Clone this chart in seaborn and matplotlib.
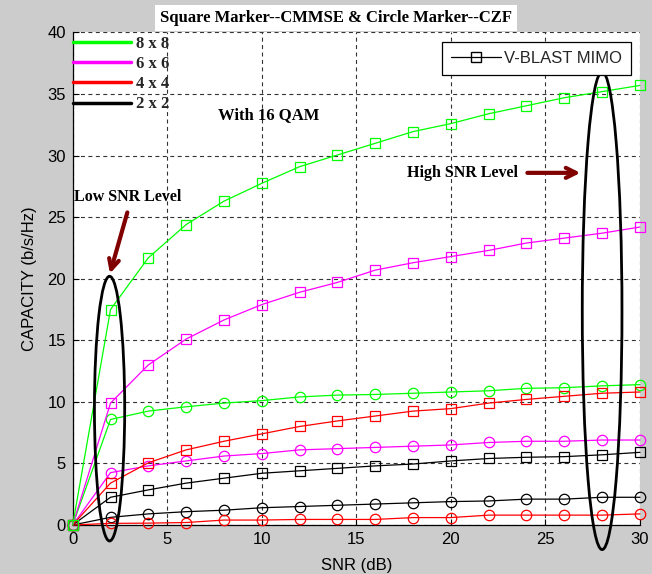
import numpy as np
import pandas as pd
import matplotlib
matplotlib.use("Agg")
import matplotlib.pyplot as plt
import seaborn as sns
from matplotlib.patches import Ellipse
from matplotlib.lines import Line2D
from matplotlib.font_manager import FontProperties

# ---------------- data ----------------
snr = [0, 2, 4, 6, 8, 10, 12, 14, 16, 18, 20, 22, 24, 26, 28, 30]
cmmse_8x8 = [0, 17.5, 21.7, 24.4, 26.3, 27.75, 29.1, 30.05, 31.0, 31.95, 32.6, 33.4, 34.05, 34.7, 35.2, 35.7]
cmmse_6x6 = [0, 9.9, 13.0, 15.1, 16.65, 17.9, 18.9, 19.7, 20.7, 21.3, 21.8, 22.3, 22.9, 23.3, 23.7, 24.2]
cmmse_4x4 = [0, 3.4, 5.05, 6.1, 6.8, 7.4, 8.0, 8.45, 8.85, 9.25, 9.45, 9.9, 10.2, 10.45, 10.7, 10.8]
cmmse_2x2 = [0, 2.25, 2.85, 3.4, 3.8, 4.2, 4.4, 4.6, 4.8, 4.95, 5.2, 5.4, 5.5, 5.55, 5.7, 5.9]
czf_8x8 = [0, 8.57, 9.25, 9.6, 9.9, 10.1, 10.4, 10.55, 10.6, 10.7, 10.8, 10.9, 11.1, 11.15, 11.3, 11.4]
czf_6x6 = [0, 4.25, 4.8, 5.2, 5.6, 5.8, 6.1, 6.2, 6.3, 6.4, 6.5, 6.7, 6.8, 6.8, 6.9, 6.9]
czf_4x4 = [0, 0.13, 0.15, 0.2, 0.4, 0.4, 0.45, 0.45, 0.45, 0.6, 0.6, 0.8, 0.8, 0.8, 0.8, 0.9]
czf_2x2 = [0, 0.62, 0.9, 1.08, 1.2, 1.4, 1.5, 1.6, 1.7, 1.8, 1.9, 1.95, 2.1, 2.1, 2.25, 2.25]

antenna_labels = ["8 x 8", "6 x 6", "4 x 4", "2 x 2"]
antenna_colors = ["#00ff00", "#ff00ff", "#ff0000", "#000000"]

title_text = "Square Marker--CMMSE & Circle Marker--CZF"
legend2_label = "V-BLAST MIMO"

# ---------------- style ----------------
sns.set_theme(style="white")
plt.rcParams["font.family"] = ["Liberation Sans", "DejaVu Sans"]
serif_bold = FontProperties(family="Liberation Serif", weight="bold", size=12)

fig = plt.figure(figsize=(6.52, 5.74), dpi=100, facecolor="#cccccc")
ax = fig.add_axes([0.1115, 0.0854, 0.8700, 0.8580])
ax.set_facecolor("white")

series = [
    (czf_2x2, "o", "#000000"), (czf_4x4, "o", "#ff0000"),
    (czf_6x6, "o", "#ff00ff"), (czf_8x8, "o", "#00ff00"),
    (cmmse_2x2, "s", "#000000"), (cmmse_4x4, "s", "#ff0000"),
    (cmmse_6x6, "s", "#ff00ff"), (cmmse_8x8, "s", "#00ff00"),
]
for vals, mk, col in series:
    df = pd.DataFrame({"snr": snr, "cap": vals})
    sns.lineplot(data=df, x="snr", y="cap", ax=ax, color=col, lw=0.9,
                 marker=mk, markersize=7.5, markerfacecolor="none",
                 markeredgecolor=col, markeredgewidth=0.9, errorbar=None,
                 legend=False, clip_on=False, zorder=3)

ax.set_xlim(0, 30)
ax.set_ylim(0, 40)
ax.set_xticks(range(0, 31, 5))
ax.set_yticks(range(0, 41, 5))
ax.grid(True, color="#333333", linestyle=(0, (3.6, 3.1)), linewidth=0.8)
for s in ["top", "right"]:
    ax.spines[s].set_visible(False)
for s in ["left", "bottom"]:
    ax.spines[s].set_color("black")
    ax.spines[s].set_linewidth(0.9)
ax.tick_params(direction="in", length=4, width=0.8, colors="black",
               labelsize=12, pad=5, left=True, bottom=True)
ax.set_xlabel("SNR (dB)", fontsize=12, color="black", labelpad=8)
ax.set_ylabel("CAPACITY (b/s/Hz)", fontsize=12, color="black", labelpad=7)

# ellipses
ax.add_patch(Ellipse((1.95, 9.45), 1.6, 21.5, fill=False, ec="black", lw=2.0,
                     zorder=4, clip_on=False))
ax.add_patch(Ellipse((28.0, 17.4), 2.1, 38.8, fill=False, ec="black", lw=2.0,
                     zorder=4, clip_on=False))

# arrows
ax.annotate("", xy=(1.93, 20.2), xytext=(2.93, 25.6),
            arrowprops=dict(arrowstyle="->,head_length=0.6,head_width=0.3",
                            color="#800000", lw=3), zorder=5)
ax.annotate("", xy=(27.0, 28.6), xytext=(23.9, 28.6),
            arrowprops=dict(arrowstyle="->,head_length=0.6,head_width=0.3",
                            color="#800000", lw=3), zorder=5)

ax.text(0.05, 26.6, "Low SNR Level", fontproperties=serif_bold, ha="left",
        va="center", color="black", fontsize=11.5)
ax.text(17.7, 28.6, "High SNR Level", fontproperties=serif_bold, ha="left",
        va="center", color="black", fontsize=11.5)
ax.text(7.7, 33.3, "With 16 QAM", fontproperties=serif_bold, ha="left",
        va="center", color="black")

# legends
h1 = [Line2D([], [], color=c, lw=2.5) for c in antenna_colors]
leg1 = ax.legend(h1, antenna_labels, loc="upper left", bbox_to_anchor=(0, 0.993),
                 borderaxespad=0, frameon=False, handlelength=3.5,
                 handletextpad=0.3, labelspacing=0.25, borderpad=0.0,
                 prop=serif_bold)
ax.add_artist(leg1)

h2 = [Line2D([], [], color="black", lw=0.9, marker="s", markersize=7.5,
             markerfacecolor="none", markeredgecolor="black")]
leg2 = ax.legend(h2, [legend2_label], loc="upper right",
                 bbox_to_anchor=(0.984, 0.981), borderaxespad=0,
                 fancybox=False, framealpha=1, edgecolor="black",
                 handlelength=3.0, handletextpad=0.15, borderpad=0.55,
                 prop=FontProperties(family="Liberation Sans", size=12))
leg2.get_frame().set_linewidth(0.9)

fig.text(0.515, 0.968, title_text, fontproperties=serif_bold, ha="center",
         va="center", color="black",
         bbox=dict(boxstyle="square,pad=0.3", fc="white", ec="none"))

fig.savefig("out.png", dpi=100, facecolor=fig.get_facecolor())
